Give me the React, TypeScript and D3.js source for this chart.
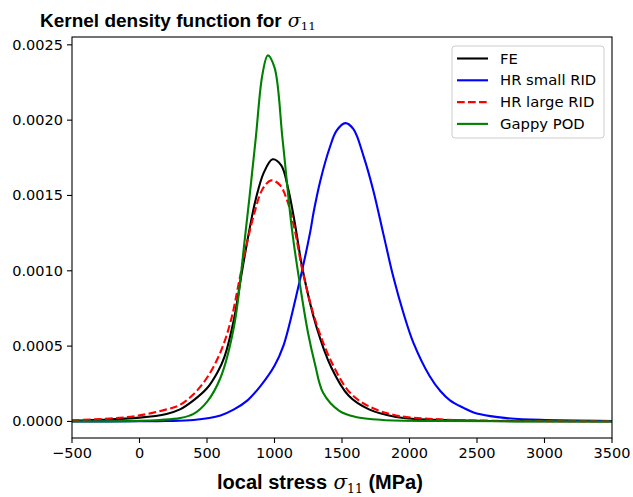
import * as d3 from "d3";

// chart size and plot box
const W = 633;
const H = 497;
const margin = { top: 37, right: 21, bottom: 59, left: 72 };

// values (stress in MPa, density)
const feX = [-500, -300, 0, 200, 300, 400, 500, 580, 630, 700, 760, 820, 860, 920, 986, 1050, 1100, 1150, 1210, 1310, 1420, 1550, 1700, 1900, 2200, 2600, 3500];
const feY = [0.000005, 0.00001, 0.000025, 0.00005, 0.00008, 0.00014, 0.00022, 0.00033, 0.00043, 0.00068, 0.001, 0.0013, 0.00147, 0.00165, 0.00174, 0.0017, 0.00155, 0.00132, 0.001, 0.00063, 0.00036, 0.00017, 0.00008, 0.00003, 0.00001, 0.000003, 0];

const smallX = [-500, 0, 200, 400, 600, 700, 800, 900, 1000, 1065, 1160, 1265, 1290, 1340, 1410, 1460, 1525, 1585, 1660, 1730, 1805, 1880, 1955, 2030, 2150, 2230, 2300, 2400, 2475, 2600, 2720, 2970, 3500];
const smallY = [0, 0.000001, 0.000003, 0.00001, 0.00004, 0.00008, 0.00014, 0.00024, 0.00037, 0.0005, 0.00083, 0.00126, 0.00139, 0.0016, 0.00182, 0.00193, 0.00198, 0.00194, 0.00176, 0.00154, 0.00125, 0.00096, 0.00072, 0.00052, 0.0003, 0.0002, 0.00014, 0.00009, 0.00006, 0.000035, 0.000022, 0.00001, 0.000003];

const largeX = [-500, -200, 0, 200, 300, 400, 500, 600, 680, 740, 800, 850, 910, 975, 1040, 1100, 1150, 1210, 1310, 1430, 1560, 1700, 1900, 2200, 2600, 3500];
const largeY = [0.000008, 0.00002, 0.00004, 0.00008, 0.00011, 0.00018, 0.00029, 0.00046, 0.00068, 0.00094, 0.0012, 0.00138, 0.00154, 0.0016, 0.00157, 0.00145, 0.00127, 0.00099, 0.00065, 0.00038, 0.00019, 0.0001, 0.00004, 0.000015, 0.000005, 0.000001];

const gappyX = [-500, 0, 150, 300, 400, 500, 600, 700, 780, 860, 910, 950, 1000, 1060, 1130, 1190, 1250, 1300, 1360, 1480, 1600, 1800, 2200, 3500];
const gappyY = [0, 0.000004, 0.00001, 0.000022, 0.00005, 0.00013, 0.00029, 0.00063, 0.00121, 0.00187, 0.0023, 0.00243, 0.00235, 0.00187, 0.00127, 0.0009, 0.00058, 0.00038, 0.00019, 0.00007, 0.00003, 0.00001, 0.000003, 0];

const xTicks = [-500, 0, 500, 1000, 1500, 2000, 2500, 3000, 3500];
const yTicks = [0, 0.0005, 0.001, 0.0015, 0.002, 0.0025];

const seriesNames = ["FE", "HR small RID", "HR large RID", "Gappy POD"];
const seriesColours = ["#000000", "#0000ff", "#ff0000", "#008000"];
const seriesDash = ["", "", "7.7,3.3", ""];

const font = "'DejaVu Sans', sans-serif";
const boldFont = "'Liberation Sans', Arial, sans-serif";
const mathFont = "'DejaVu Serif', serif";

const Sigma11 = ({ size }: { size: number }) => (
  <>
    <tspan fontFamily={mathFont} fontStyle="italic" fontWeight="normal"> σ</tspan>
    <tspan fontFamily={mathFont} fontWeight="normal" fontSize={size * 0.62} dy={size * 0.18}>11</tspan>
  </>
);

export default function App() {
  const x = d3.scaleLinear().domain([-500, 3500]).range([margin.left, W - margin.right]);
  const y = d3.scaleLinear().domain([-0.00011, 0.002552]).range([H - margin.bottom, margin.top]);

  const line = d3.line<[number, number]>()
    .x(d => x(d[0]))
    .y(d => y(d[1]))
    .curve(d3.curveCatmullRom.alpha(0.5));

  const series = [
    d3.zip(feX, feY),
    d3.zip(smallX, smallY),
    d3.zip(largeX, largeY),
    d3.zip(gappyX, gappyY),
  ] as [number, number][][];

  const bottom = H - margin.bottom;
  const yFmt = d3.format(".4f");

  // legend box
  const lg = { x: 452, y: 46, w: 152, h: 92 };

  return (
    <svg width={W} height={H} style={{ position: "absolute", left: 0, top: 0 }} fontFamily={font}>
      <rect width={W} height={H} fill="white" />

      {series.map((pts, i) => (
        <path key={i} d={line(pts) ?? ""} fill="none" stroke={seriesColours[i]}
          strokeWidth={2.1} strokeDasharray={seriesDash[i]} />
      ))}

      {/* frame */}
      <rect x={margin.left} y={margin.top} width={W - margin.left - margin.right}
        height={bottom - margin.top} fill="none" stroke="black" strokeWidth={1.1} />

      {/* x axis */}
      {xTicks.map(t => (
        <g key={t}>
          <line x1={x(t)} x2={x(t)} y1={bottom} y2={bottom + 5} stroke="black" strokeWidth={1.1} />
          <text x={x(t)} y={bottom + 20} fontSize={14.5} textAnchor="middle">{t < 0 ? "−" + Math.abs(t) : t}</text>
        </g>
      ))}
      {/* y axis */}
      {yTicks.map(t => (
        <g key={t}>
          <line x1={margin.left - 5} x2={margin.left} y1={y(t)} y2={y(t)} stroke="black" strokeWidth={1.1} />
          <text x={margin.left - 9} y={y(t) + 5} fontSize={14.5} textAnchor="end">{yFmt(t)}</text>
        </g>
      ))}

      {/* title and x label */}
      <text x={40} y={27} fontSize={19} fontWeight="bold" fontFamily={boldFont}>
        Kernel density function for<Sigma11 size={19} />
      </text>
      <text x={217} y={489} fontSize={20} fontWeight="bold" fontFamily={boldFont}>
        local stress<Sigma11 size={20} /><tspan dy={-20 * 0.18}> (MPa)</tspan>
      </text>

      {/* legend */}
      <rect x={lg.x} y={lg.y} width={lg.w} height={lg.h} rx={3} fill="white" fillOpacity={0.8} stroke="#cccccc" />
      {seriesNames.map((n, i) => {
        const cy = 58.5 + i * 21.8;
        return (
          <g key={n}>
            <line x1={457} x2={488} y1={cy} y2={cy} stroke={seriesColours[i]} strokeWidth={2.1} strokeDasharray={seriesDash[i]} />
            <text x={500} y={cy + 5} fontSize={14.8}>{n}</text>
          </g>
        );
      })}
    </svg>
  );
}
